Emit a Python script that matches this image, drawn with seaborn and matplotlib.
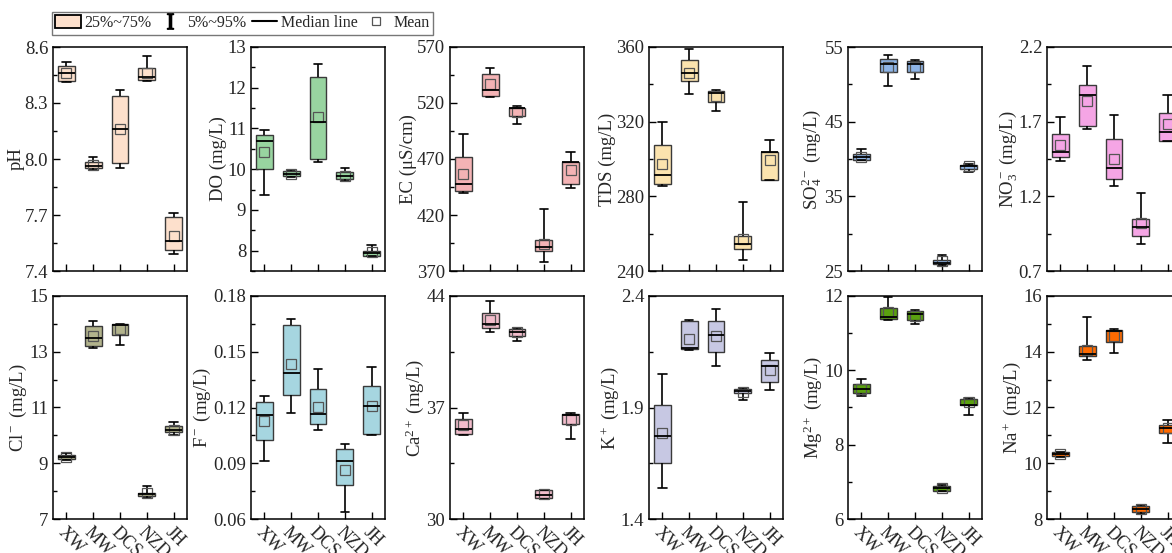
import numpy as np
import pandas as pd
import seaborn as sns
import matplotlib.pyplot as plt
from matplotlib.patches import Patch
from matplotlib.lines import Line2D

sites = ["XW", "MW", "DCS", "NZD", "JH"]

# each row: 5%, 25%, median, 75%, 95% for one site
ph_box = [[8.41, 8.42, 8.46, 8.50, 8.52], [7.94, 7.95, 7.965, 7.985, 8.01],
          [7.95, 7.98, 8.16, 8.34, 8.37], [8.42, 8.425, 8.44, 8.49, 8.55],
          [7.49, 7.51, 7.56, 7.69, 7.71]]
ph_mean = [8.46, 7.97, 8.16, 8.46, 7.59]

do_box = [[9.37, 10.01, 10.69, 10.84, 10.96], [9.80, 9.84, 9.88, 9.95, 9.98],
          [10.17, 10.26, 11.16, 12.27, 12.59], [9.71, 9.77, 9.84, 9.92, 10.03],
          [7.86, 7.88, 7.93, 8.0, 8.15]]
do_mean = [10.42, 9.89, 11.29, 9.84, 7.97]

ec_box = [[439.6, 441.1, 447.4, 471.8, 492.3], [525.4, 526.0, 531.9, 546.2, 551.3],
          [501.3, 508.1, 515.2, 515.8, 517.0], [378.0, 387.6, 391.4, 397.4, 425.4],
          [444.4, 447.4, 467.0, 467.3, 476.5]]
ec_mean = [456.9, 537.3, 512.3, 394.4, 460.5]

tds_box = [[285.8, 286.7, 291.4, 307.3, 319.9], [334.9, 341.7, 345.9, 352.8, 358.7],
           [325.8, 330.3, 335.6, 336.2, 336.7], [245.9, 251.6, 254.7, 258.8, 276.9],
           [288.5, 288.7, 303.8, 303.9, 310.0]]
tds_mean = [297.1, 345.9, 333.5, 257.2, 299.5]

so4_box = [[39.84, 39.93, 40.29, 40.61, 41.28], [49.84, 51.59, 52.71, 53.39, 53.88],
           [50.74, 51.59, 52.71, 53.07, 53.30], [25.85, 25.94, 26.08, 26.48, 27.2],
           [38.27, 38.72, 39.04, 39.26, 39.39]]
so4_mean = [40.29, 52.31, 52.31, 26.30, 39.04]

no3_box = [[1.437, 1.466, 1.497, 1.616, 1.732], [1.652, 1.672, 1.880, 1.947, 2.07],
           [1.269, 1.313, 1.392, 1.582, 1.743], [0.879, 0.937, 0.996, 1.049, 1.224],
           [1.570, 1.571, 1.629, 1.757, 1.878]]
no3_mean = [1.542, 1.840, 1.448, 1.022, 1.683]

cl_box = [[9.11, 9.14, 9.23, 9.31, 9.36], [13.15, 13.21, 13.48, 13.92, 14.12],
          [13.25, 13.60, 13.95, 13.98, 14.0], [7.75, 7.81, 7.88, 7.95, 8.19],
          [10.01, 10.12, 10.21, 10.32, 10.49]]
cl_mean = [9.23, 13.57, 13.80, 7.92, 10.21]

f_box = [[0.0910, 0.1024, 0.1162, 0.1227, 0.1263], [0.1170, 0.1268, 0.1384, 0.1642, 0.1675],
         [0.1080, 0.1110, 0.1166, 0.1302, 0.1408], [0.0636, 0.0783, 0.0913, 0.0974, 0.1005],
         [0.1054, 0.1055, 0.1207, 0.1316, 0.1420]]
f_mean = [0.1127, 0.1436, 0.1204, 0.0863, 0.1209]

ca_box = [[35.25, 35.33, 35.66, 36.27, 36.65], [41.72, 42.01, 42.22, 42.91, 43.71],
          [41.20, 41.51, 41.72, 41.93, 42.01], [31.25, 31.32, 31.53, 31.80, 31.84],
          [35.02, 35.96, 36.50, 36.58, 36.65]]
ca_mean = [35.87, 42.50, 41.72, 31.57, 36.23]

k_box = [[1.540, 1.652, 1.771, 1.913, 2.052], [2.160, 2.164, 2.166, 2.286, 2.293],
         [2.085, 2.151, 2.227, 2.289, 2.341], [1.935, 1.965, 1.975, 1.983, 1.986],
         [1.977, 2.013, 2.088, 2.113, 2.145]]
k_mean = [1.787, 2.205, 2.220, 1.968, 2.070]

mg_box = [[9.30, 9.40, 9.51, 9.63, 9.76], [11.36, 11.37, 11.44, 11.69, 11.98],
          [11.24, 11.36, 11.51, 11.59, 11.61], [6.74, 6.76, 6.83, 6.90, 6.91],
          [8.80, 9.07, 9.08, 9.24, 9.26]]
mg_mean = [9.51, 11.58, 11.46, 6.83, 9.16]

na_box = [[10.21, 10.27, 10.34, 10.40, 10.42], [13.71, 13.85, 13.92, 14.19, 15.26],
          [13.95, 14.35, 14.75, 14.78, 14.82], [8.19, 8.24, 8.36, 8.48, 8.51],
          [10.72, 11.10, 11.26, 11.38, 11.56]]
na_mean = [10.34, 14.07, 14.57, 8.36, 11.26]

# box, mean, y label, colour, y min, y max, first major tick, tick step
panels = [
    (ph_box, ph_mean, "pH", "#FDE0CC", 7.4, 8.6, 7.4, 0.3),
    (do_box, do_mean, "DO (mg/L)", "#98D4A0", 7.5, 13, 8, 1),
    (ec_box, ec_mean, "EC (μS/cm)", "#F4B3B5", 370, 570, 370, 50),
    (tds_box, tds_mean, "TDS (mg/L)", "#FBE3AE", 240, 360, 240, 40),
    (so4_box, so4_mean, r"SO$_4^{2-}$ (mg/L)", "#8EB4E6", 25, 55, 25, 10),
    (no3_box, no3_mean, r"NO$_3^-$ (mg/L)", "#F5A5E5", 0.7, 2.2, 0.7, 0.5),
    (cl_box, cl_mean, r"Cl$^-$ (mg/L)", "#B2B38C", 7, 15, 7, 2),
    (f_box, f_mean, r"F$^-$ (mg/L)", "#A6D6E0", 0.06, 0.18, 0.06, 0.03),
    (ca_box, ca_mean, r"Ca$^{2+}$ (mg/L)", "#F2BCCB", 30, 44, 30, 7),
    (k_box, k_mean, r"K$^+$ (mg/L)", "#C7C8E3", 1.4, 2.4, 1.4, 0.5),
    (mg_box, mg_mean, r"Mg$^{2+}$ (mg/L)", "#5AA10F", 6, 12, 6, 2),
    (na_box, na_mean, r"Na$^+$ (mg/L)", "#FF6A00", 8, 16, 8, 2),
]

sns.set_style("ticks")
plt.rcParams["font.family"] = ["Liberation Serif", "DejaVu Serif"]
plt.rcParams["mathtext.fontset"] = "custom"
plt.rcParams["mathtext.rm"] = "Liberation Serif"
plt.rcParams["mathtext.it"] = "Liberation Serif:italic"
plt.rcParams["mathtext.bf"] = "Liberation Serif:bold"

W, H = 1172, 553
fig = plt.figure(figsize=(W / 100, H / 100), dpi=100)

lefts = [53, 251, 450, 649, 848, 1047]
rows = [(47, 271), (296, 519)]

for i, (box, mean, label, color, lo, hi, t0, step) in enumerate(panels):
    r, c = divmod(i, 6)
    top, bot = rows[r]
    ax = fig.add_axes([lefts[c] / W, 1 - bot / H, 134 / W, (bot - top) / H])

    df = pd.DataFrame({"site": np.repeat(sites, 5), "value": np.ravel(box)})
    sns.boxplot(data=df, x="site", y="value", ax=ax, color=color, saturation=1,
                width=0.62, whis=(0, 100), showfliers=False,
                linecolor="#3a3a3a", linewidth=1.0,
                medianprops=dict(color="black", linewidth=1.3),
                whiskerprops=dict(color="black", linewidth=1.2),
                capprops=dict(color="black", linewidth=1.2))
    sns.pointplot(x=sites, y=mean, ax=ax, errorbar=None, color="#555555",
                  markers="s", linestyle="none", markersize=6.5,
                  markerfacecolor="none", markeredgewidth=0.9)

    ax.set_xlim(-0.5, 4.5)
    major = np.arange(t0, hi + step * 0.01, step)
    minor = np.arange(t0 - step / 2, hi + step * 0.01, step / 2)
    minor = minor[minor >= lo - step * 0.01]
    ax.set_yticks(major)
    ax.set_yticks(minor, minor=True)
    ax.set_yticklabels([f"{v:g}" for v in np.round(major, 4)])
    ax.set_ylim(lo, hi)
    ax.tick_params(which="both", direction="in", top=False, right=False,
                   labelsize=13.5, width=1, color="black")
    ax.tick_params(which="major", length=5)
    ax.tick_params(which="minor", length=3)
    for s in ax.spines.values():
        s.set_linewidth(1.1)
        s.set_color("black")
    ax.set_xlabel("")
    ax.set_ylabel(label, fontsize=13.5, labelpad=0)
    if r == 0:
        ax.set_xticklabels([])
    else:
        ax.set_xticks(range(len(sites)))
        ax.set_xticklabels(sites, rotation=-45, ha="left", va="top",
                           rotation_mode="anchor", fontsize=13)

# fixed tick label formats where :g would drop a trailing zero
fig.axes[0].set_yticklabels(["7.4", "7.7", "8.0", "8.3", "8.6"])

handles = [
    Patch(facecolor="#FDE0CC", edgecolor="black", linewidth=1.3),
    Line2D([], [], color="black", marker=r"$\mathrm{I}$", linestyle="none",
           markersize=11),
    Line2D([], [], color="black", linewidth=1.5),
    Line2D([], [], color="#555555", marker="s", linestyle="none",
           markersize=6, markerfacecolor="none", markeredgewidth=0.9),
]
labels = ["25%~75%", "5%~95%", "Median line", "Mean"]
fig.legend(handles, labels, loc="upper left", bbox_to_anchor=(52 / W, 1 - 12 / H),
           ncol=4, frameon=True, fancybox=False, edgecolor="#555555",
           fontsize=11.5, handlelength=1.6, handleheight=0.9, handletextpad=0.25,
           columnspacing=0.35, borderpad=0.2, borderaxespad=0)

fig.savefig("out.png", dpi=100)
